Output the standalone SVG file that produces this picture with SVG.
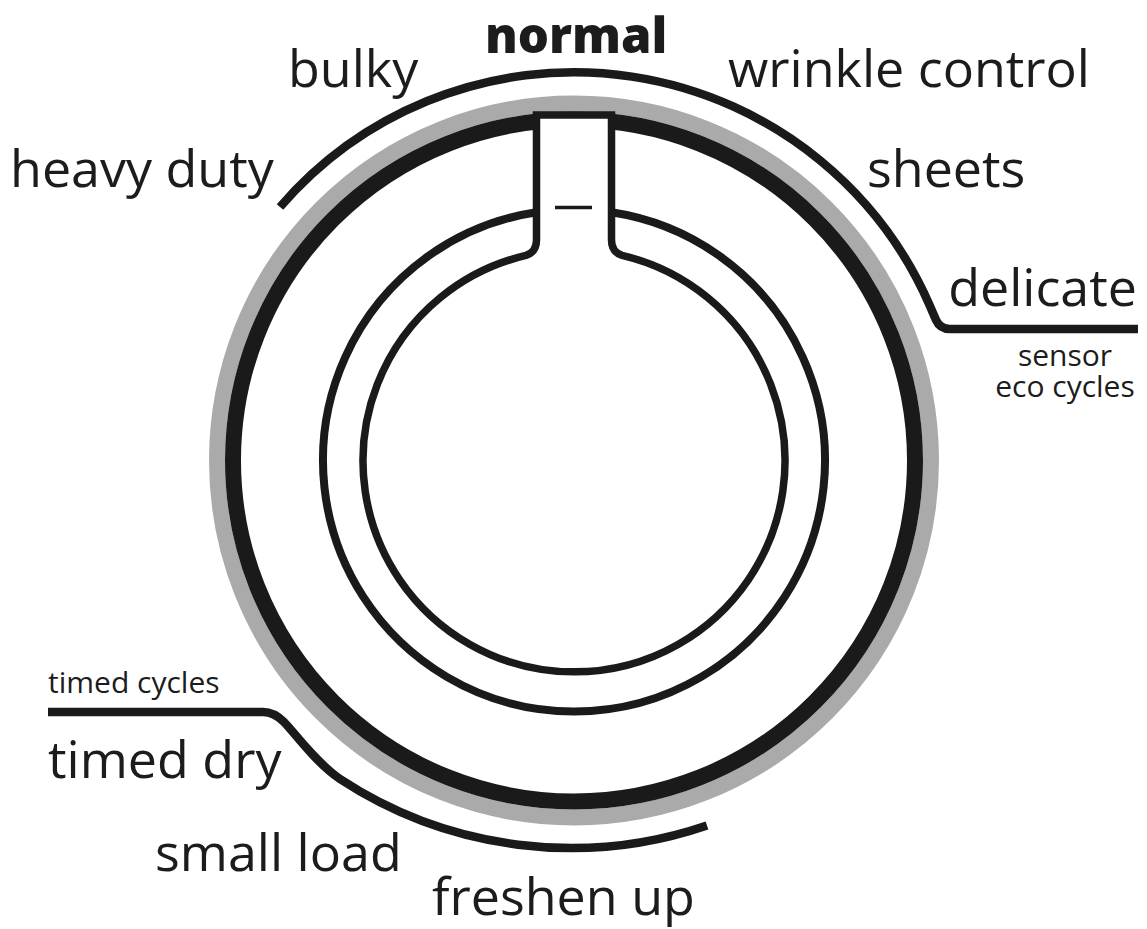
<svg xmlns="http://www.w3.org/2000/svg" width="1147" height="929" viewBox="0 0 1147 929">
<style>
.lbl{font-family:"Open Sans","Liberation Sans",sans-serif;font-size:52px;font-weight:500;fill:#1c1c1c}
.sm{font-family:"Open Sans","Liberation Sans",sans-serif;font-size:30px;font-weight:500;fill:#1c1c1c}
.bold{font-weight:800;font-size:49px}
.ln{fill:none;stroke:#1a1a1a;stroke-width:8.5;stroke-linecap:butt;stroke-linejoin:round}
.thin{fill:none;stroke:#1a1a1a;stroke-width:8}
</style>
<rect width="1147" height="929" fill="#ffffff"/>
<g id="dial">
  <circle cx="574" cy="460.5" r="357" fill="none" stroke="#aaaaaa" stroke-width="16"/>
  <circle cx="574" cy="460.5" r="341" fill="none" stroke="#1a1a1a" stroke-width="16"/>
  <path class="thin" d="M 536.5 212.3 A 251 251 0 1 0 611.5 212.3"/>
  <path d="M 536.5 115 L 611.5 115 L 611.5 240 Q 611.5 252 622 255.4 A 211 211 0 1 1 526 255.4 Q 536.5 252 536.5 240 Z" fill="#ffffff" stroke="#1a1a1a" stroke-width="7.5" stroke-linejoin="miter"/>
  <line x1="555" y1="207.5" x2="592" y2="207.5" stroke="#1a1a1a" stroke-width="3.5"/>
</g>
<g id="connectors">
  <path class="ln" d="M 280 207 A 388 388 0 0 1 929.5 305 L 936 320 Q 940 329 950 329 L 1138 329"/>
  <path class="ln" d="M 48 712 L 263 712 Q 274 712 284 722 C 294 732 315 762 340 779 A 421 421 0 0 0 707 825.4"/>
</g>
<g id="label-heavy-duty"><text class="lbl" x="10" y="187">heavy duty</text></g>
<g id="label-bulky"><text class="lbl" x="288" y="87">bulky</text></g>
<g id="label-normal"><text class="lbl bold" x="485" y="53">normal</text></g>
<g id="label-wrinkle-control"><text class="lbl" x="728" y="87">wrinkle control</text></g>
<g id="label-sheets"><text class="lbl" x="867" y="187">sheets</text></g>
<g id="label-delicate"><text class="lbl" x="1137" y="306" text-anchor="end">delicate</text></g>
<g id="label-sensor-eco"><text class="sm" x="1065" y="366" text-anchor="middle">sensor</text><text class="sm" x="1065" y="397" text-anchor="middle">eco cycles</text></g>
<g id="label-timed-cycles"><text class="sm" x="48" y="693">timed cycles</text></g>
<g id="label-timed-dry"><text class="lbl" x="48" y="778">timed dry</text></g>
<g id="label-small-load"><text class="lbl" x="155" y="871">small load</text></g>
<g id="label-freshen-up"><text class="lbl" x="432" y="915">freshen up</text></g>
</svg>
